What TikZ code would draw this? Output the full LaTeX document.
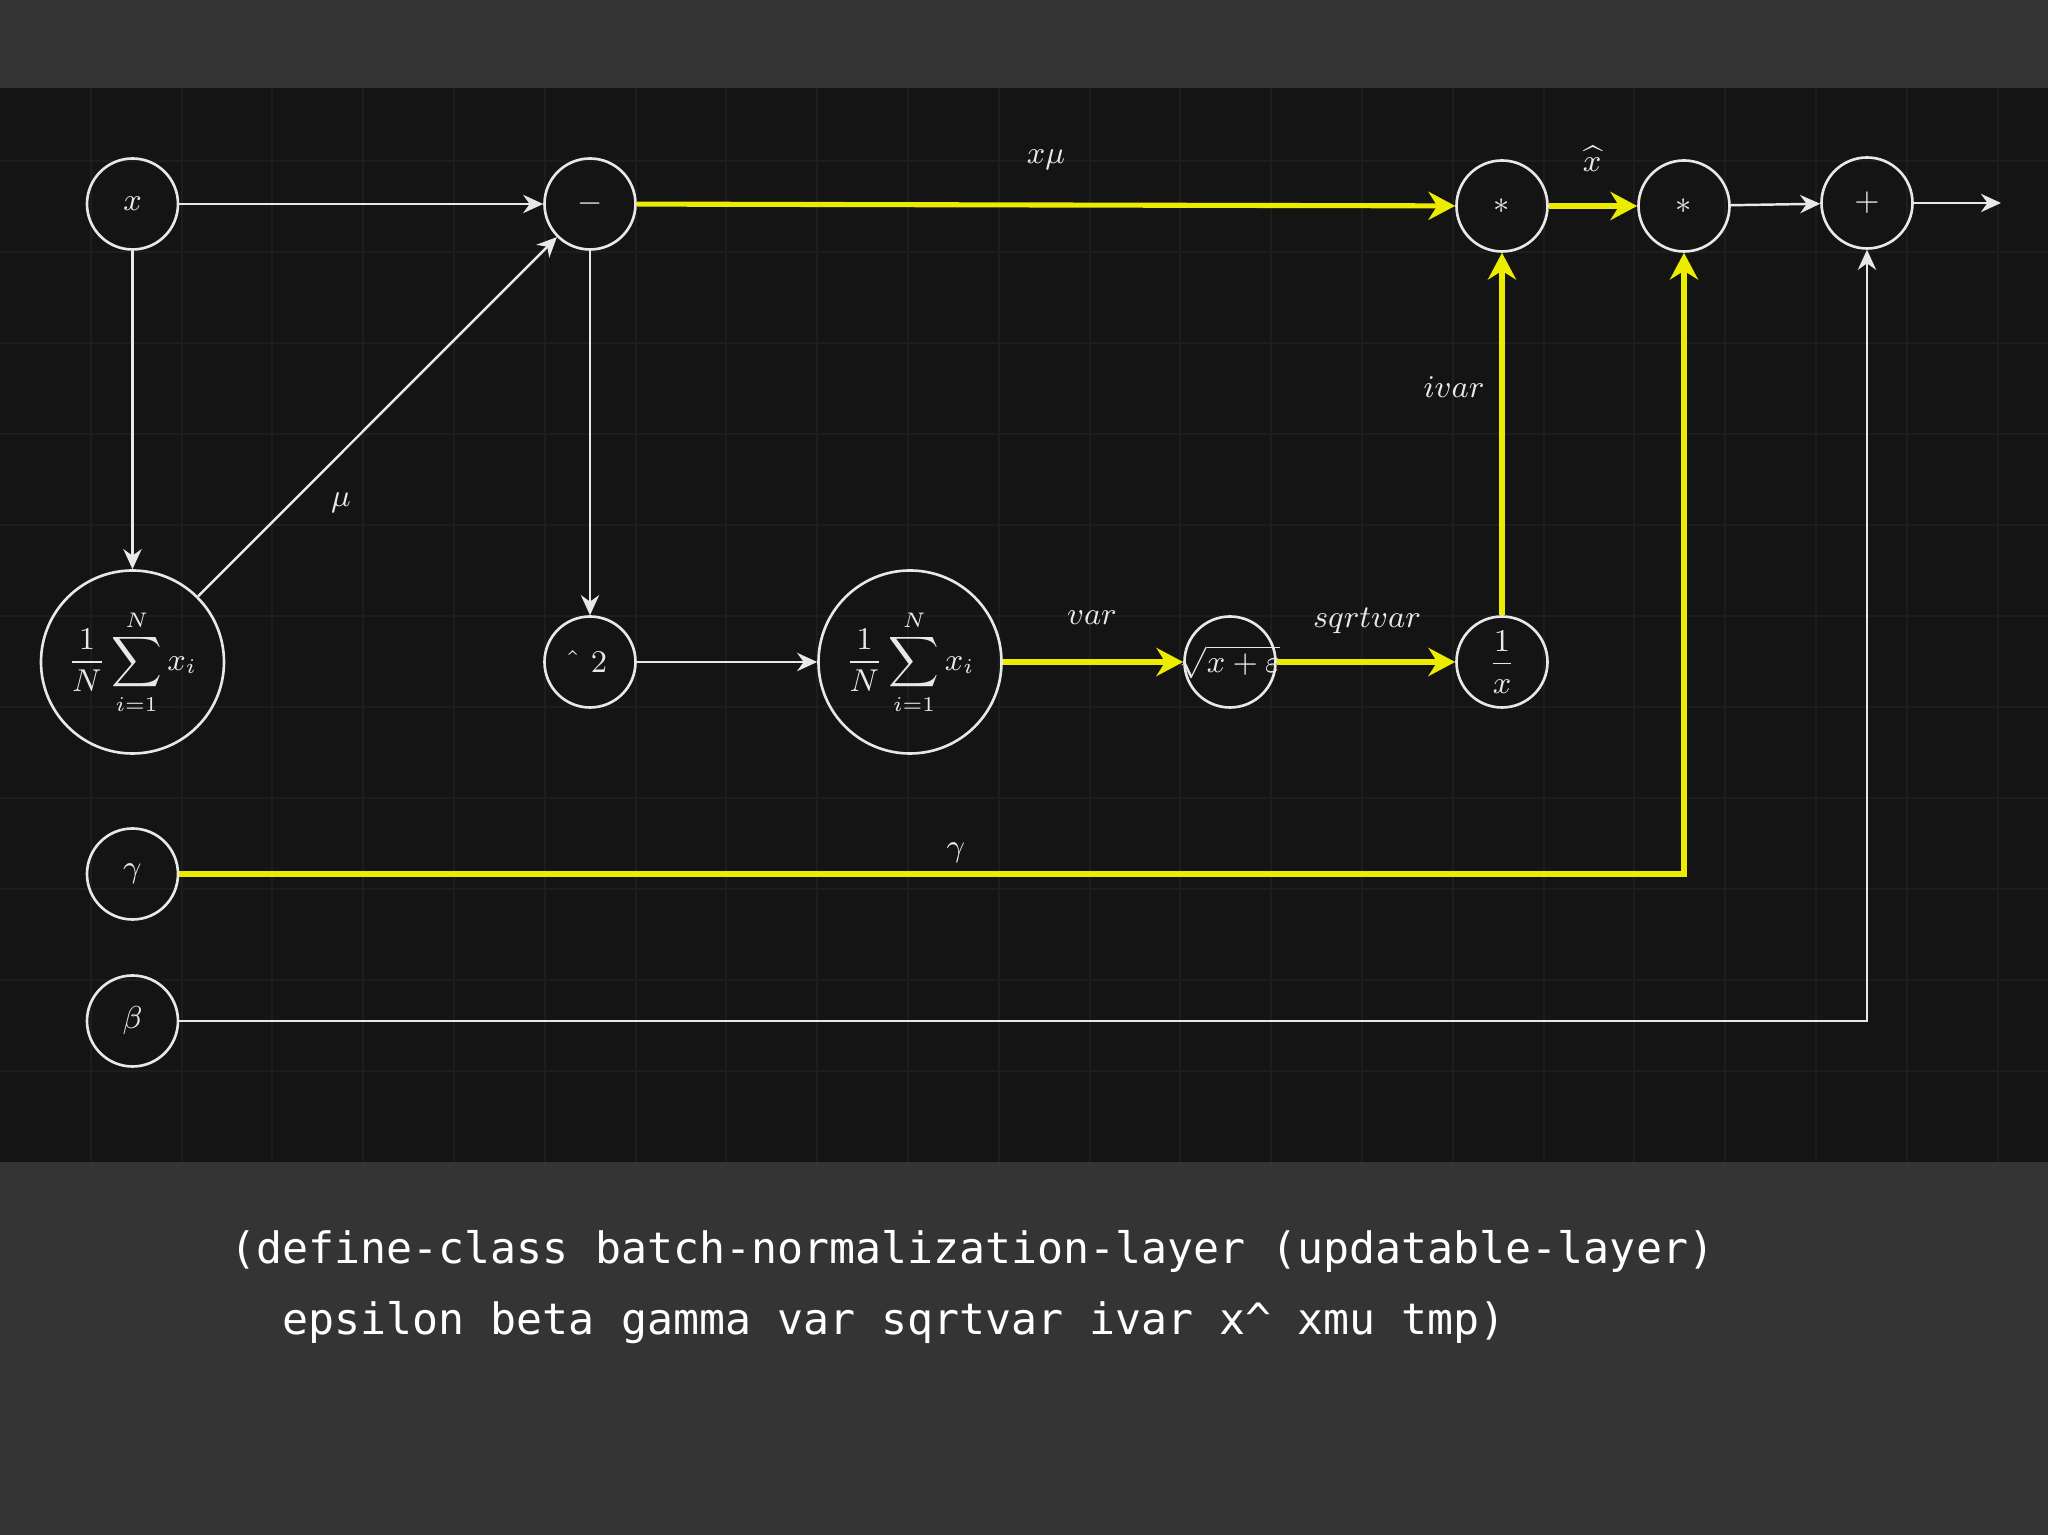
\documentclass[tikz,border=0pt]{standalone}
\usepackage{fontspec}
\newfontfamily\codefont{DejaVu Sans Mono}
\usetikzlibrary{arrows.meta}

\definecolor{fg}{RGB}{232,232,232}
\definecolor{hl}{RGB}{236,236,0}
\definecolor{panel}{RGB}{20,20,20}
\definecolor{frame}{RGB}{52,52,52}
\definecolor{gridline}{RGB}{29,29,29}

\tikzset{
    wire/.style={draw=fg, line width=0.7pt, -{Stealth[length=5.7pt,width=5.2pt]}},
    hot/.style={draw=hl, line width=1.45pt, -{Stealth[length=7.6pt,width=8pt]}},
    code/.style={anchor=base west, inner sep=0pt, text=white, font=\codefont\fontsize{12.3}{14}\selectfont},
}

\begin{document}
\begin{tikzpicture}[font=\fontsize{9}{11}\selectfont]
    \useasboundingbox (0,0) rectangle (20.48,15.35);
    \fill[frame] (0,0) rectangle (20.48,15.35);
    \fill[panel] (0,3.73) rectangle (20.48,14.47);
    \foreach \i in {1,...,22}
        \draw[gridline, line width=0.6pt] (0.908*\i,3.73) -- (0.908*\i,14.47);
    \foreach \j in {0,...,10}
        \draw[gridline, line width=0.6pt] (0,13.74-0.91*\j) -- (20.48,13.74-0.91*\j);

    \begin{scope}[every node/.style={circle, draw=fg, text=fg, line width=0.75pt, minimum size=0.91cm, inner sep=0pt}]
        \node (x) at (1.325,13.31) {$x$};
        \node (sub) at (5.90,13.31) {$-$};
        \node[minimum size=1.83cm] (mean) at (1.325,8.73) {$\displaystyle\frac{1}{N}\sum_{i=1}^{N}x_i$};
        \node (sq) at (5.90,8.73) {$\hat{}\;\;2$};
        \node[minimum size=1.83cm] (var) at (9.10,8.73) {$\displaystyle\frac{1}{N}\sum_{i=1}^{N}x_i$};
        \node (sqrt) at (12.30,8.73) {\makebox[0pt]{$\sqrt{x+\varepsilon}$}};
        \node (inv) at (15.02,8.73) {$\displaystyle\frac{1}{x}$};
        \node (mul1) at (15.02,13.29) {$*$};
        \node (mul2) at (16.84,13.29) {$*$};
        \node (add) at (18.67,13.32) {$+$};
        \node (gamma) at (1.325,6.61) {$\gamma$};
        \node (beta) at (1.325,5.14) {$\beta$};
    \end{scope}
    \coordinate (out) at (20.01,13.32);

    % white wires
    \begin{scope}[every edge/.style={wire}]
        \path (x) edge (sub);
        \path (x) edge (mean);
        \path (mean) edge (sub);
        \path (sub) edge (sq);
        \path (sq) edge (var);
        \path (mul2) edge (add);
        \path (add) edge (out);
        \draw[wire] (beta) -| (add);
        \node[text=fg] (lmu) at (3.41,10.32) {$\mu$};
    \end{scope}

    % yellow path
    \begin{scope}[every edge/.style={hot}]
        \path (sub) edge (mul1);
        \path (var) edge (sqrt);
        \path (sqrt) edge (inv);
        \path (inv) edge (mul1);
        \path (mul1) edge (mul2);
        \draw[hot] (gamma) -| (mul2);
        \node[text=fg] (lxmu) at (10.46,13.75) {$x\mu$};
        \node[text=fg] (lxhat) at (15.92,13.76) {$\widehat{x}$};
        \node[text=fg] (livar) at (14.54,11.48) {$ivar$};
        \node[text=fg] (lvar) at (10.92,9.17) {$var$};
        \node[text=fg] (lsqrtvar) at (13.67,9.14) {$sqrtvar$};
        \node[text=fg] (lgamma) at (9.56,6.82) {$\gamma$};
    \end{scope}

    \node[code] (code1) at (2.30,2.71) {(define-class batch-normalization-layer (updatable-layer)};
    \node[code] (code2) at (2.82,2.00) {epsilon beta gamma var sqrtvar ivar x\textasciicircum{} xmu tmp)};
\end{tikzpicture}
\end{document}
